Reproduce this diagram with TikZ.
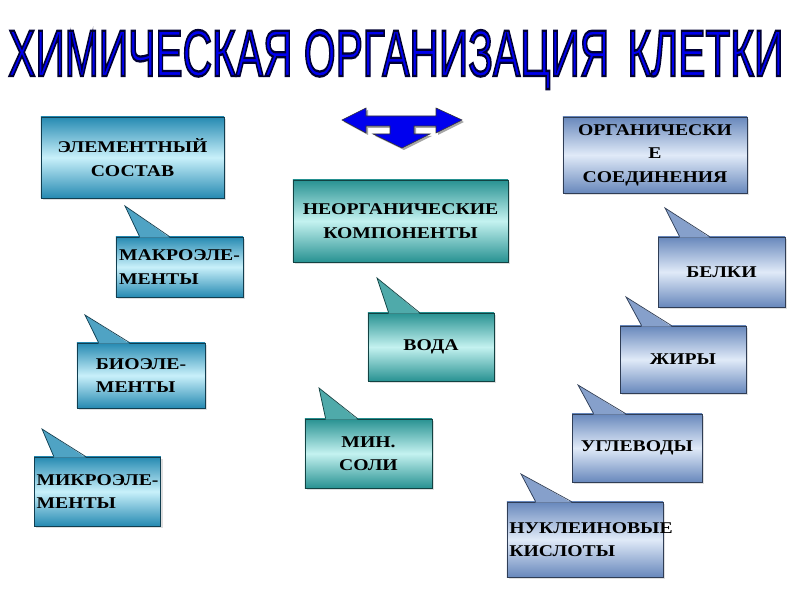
\documentclass[tikz,border=0pt]{standalone}
\usepackage{fontspec}
\usepackage{graphicx}
\usetikzlibrary{calc,shadows}
\newfontfamily\titlefont{Liberation Sans}
\newfontfamily\boxfont[FakeStretch=1.2]{Liberation Serif}

\definecolor{leftdark}{RGB}{38,138,178}
\definecolor{leftlight}{RGB}{200,240,250}
\definecolor{middark}{RGB}{40,146,146}
\definecolor{midlight}{RGB}{196,242,240}
\definecolor{rightdark}{RGB}{104,136,188}
\definecolor{rightlight}{RGB}{224,234,248}
\definecolor{titleblue}{RGB}{0,0,238}

\tikzset{
  box/.style={draw=#1dark!45!black, line width=0.6pt,
    top color=#1dark, bottom color=#1dark, middle color=#1light,
    drop shadow={opacity=0.25, shadow xshift=1.5pt, shadow yshift=-1.5pt},
    font=\boxfont\bfseries\fontsize{14}{20}\selectfont,
    align=center, inner sep=2pt},
  titlestyle/.style={anchor=base west, inner sep=0pt, font=\titlefont}
}

% хвост выноски: узел, остриё, цвет, начало и конец основания
\newcommand\calltail[5]{%
  \fill[#3dark!75!#3light] ($(#1.north west)+(#4,1)$) -- (#2) -- ($(#1.north west)+(#5,1)$) -- cycle;
  \draw[#3dark!45!black, line width=0.6pt] ($(#1.north west)+(#4,0)$) -- (#2) -- ($(#1.north west)+(#5,0)$);
}
% заливка синим и чёрный контур букв
\newcommand\titletext{\resizebox{23.25cm}{1.38cm}{%
  \special{pdf:literal direct 0 0 0.2 RG 0.35 w 2 Tr}%
  ХИМИЧЕСКАЯ ОРГАНИЗАЦИЯ\hspace{0.45em}КЛЕТКИ%
  \special{pdf:literal direct 0 Tr}}}

\begin{document}
\begin{tikzpicture}[x=0.03cm, y=-0.03cm]
  \fill[white] (0,0) rectangle (800,600);
  \useasboundingbox (0,0) rectangle (800,600);

  % заголовок
  \node[titlestyle, text=titleblue] (title) at (8,76) {\titletext};

  % стрелка
  \fill[black!35] (344,122) -- (368,110) -- (368,118) -- (438,118) -- (438,110) -- (464,122)
    -- (438,135) -- (438,128) -- (416,128) -- (416,136) -- (432,136) -- (404,150)
    -- (375,136) -- (392,136) -- (392,128) -- (368,128) -- (368,135) -- cycle;
  \filldraw[fill=titleblue, draw=black!80, line width=0.5pt]
    (342,120) -- (366,108) -- (366,116) -- (436,116) -- (436,108) -- (462,120)
    -- (436,133) -- (436,126) -- (414,126) -- (414,134) -- (430,134) -- (402,148)
    -- (373,134) -- (390,134) -- (390,126) -- (366,126) -- (366,133) -- cycle;

  % левый столбец
  \node[box=left, minimum width=5.49cm, minimum height=2.43cm] (elem) at (132.5,157.5) {ЭЛЕМЕНТНЫЙ\\СОСТАВ};
  \node[box=left, minimum width=3.81cm, minimum height=1.80cm, align=left] (macro) at (179.5,267) {МАКРОЭЛЕ-\\МЕНТЫ};
  \calltail{macro}{125,206}{left}{24}{54}
  \node[box=left, minimum width=3.84cm, minimum height=1.95cm, align=left] (bio) at (141,375.5) {БИОЭЛЕ-\\МЕНТЫ};
  \calltail{bio}{85,315}{left}{22}{53}
  \node[box=left, minimum width=3.75cm, minimum height=2.07cm, align=left] (micro) at (97.5,491.5) {МИКРОЭЛЕ-\\МЕНТЫ};
  \calltail{micro}{42,429}{left}{20}{52}

  % средний столбец
  \node[box=mid, minimum width=6.45cm, minimum height=2.46cm] (neorg) at (400.5,221) {НЕОРГАНИЧЕСКИЕ\\КОМПОНЕНТЫ};
  \node[box=mid, minimum width=3.78cm, minimum height=2.04cm] (water) at (431,347) {ВОДА};
  \calltail{water}{377,278}{mid}{21}{52}
  \node[box=mid, minimum width=3.81cm, minimum height=2.07cm] (salts) at (368.5,453.5) {МИН.\\СОЛИ};
  \calltail{salts}{319,388}{mid}{21}{53}

  % правый столбец
  \node[box=right, minimum width=5.52cm, minimum height=2.28cm] (org) at (655,155) {ОРГАНИЧЕСКИ\\Е\\СОЕДИНЕНИЯ};
  \node[box=right, minimum width=3.81cm, minimum height=2.10cm] (prot) at (721.5,272) {БЕЛКИ};
  \calltail{prot}{665,208}{right}{22}{52}
  \node[box=right, minimum width=3.78cm, minimum height=2.01cm] (fats) at (683,359.5) {ЖИРЫ};
  \calltail{fats}{626,297}{right}{22}{52}
  \node[box=right, minimum width=3.90cm, minimum height=2.04cm] (carb) at (637,448) {УГЛЕВОДЫ};
  \calltail{carb}{578,385}{right}{22}{54}
  \node[box=right, text width=4.54cm, minimum height=2.25cm, align=left] (nucl) at (585,539.5) {НУКЛЕИНОВЫЕ\\КИСЛОТЫ};
  \calltail{nucl}{521,474}{right}{29}{65}
\end{tikzpicture}
\end{document}
